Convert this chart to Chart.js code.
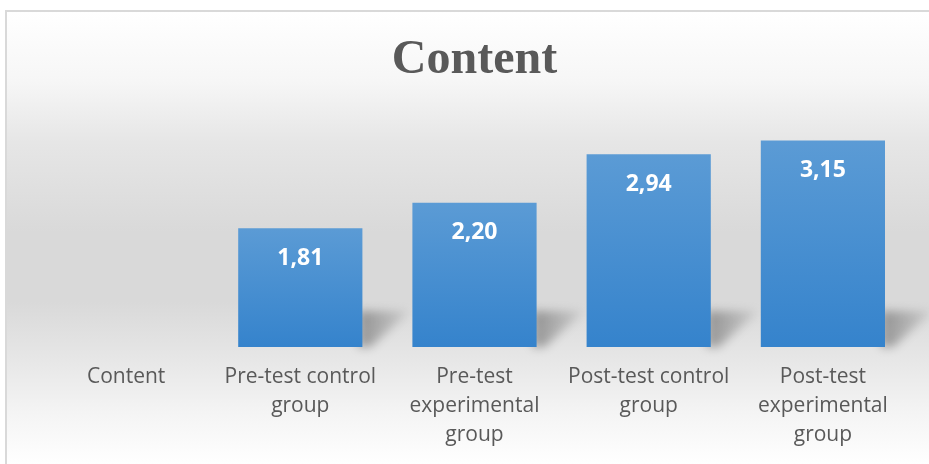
<!DOCTYPE html>
<html>
<head>
<meta charset="utf-8">
<script src="https://cdn.jsdelivr.net/npm/chart.js@4"></script>
<style>
  html, body { margin: 0; padding: 0; background: #ffffff; }
  body { width: 929px; height: 464px; position: relative; overflow: hidden; }
  .frame {
    position: absolute; left: 5px; top: 10px; width: 940px; height: 470px;
    border: 2px solid #d9d9d9;
    background: linear-gradient(to bottom, #ffffff 0px, #f6f6f6 70px, #e6e6e6 130px, #d9d9d9 220px, #d9d9d9 290px, #e6e6e6 345px, #f4f4f4 400px, #ffffff 454px);
  }
  #chart { position: absolute; left: 0; top: 0; }
</style>
</head>
<body>
<div class="frame"></div>
<canvas id="chart" width="929" height="464"></canvas>
<script>
const categories = [
  'Content',
  ['Pre-test control', 'group'],
  ['Pre-test', 'experimental', 'group'],
  ['Post-test control', 'group'],
  ['Post-test', 'experimental', 'group']
]
const values = [null, 1.81, 2.20, 2.94, 3.15]
const chartTitle = 'Content'

// floor shadow behind every bar
const barShadow = {
  id: 'barShadow',
  beforeDatasetsDraw(chart) {
    const ctx = chart.ctx
    const meta = chart.getDatasetMeta(0)
    meta.data.forEach((bar, i) => {
      if (values[i] == null) return
      const right = bar.x + bar.width / 2
      const bottom = bar.base
      ctx.save()
      ctx.filter = 'blur(5px)'
      const g = ctx.createLinearGradient(right, 0, right + 48, 0)
      g.addColorStop(0, 'rgba(0,0,0,0.32)')
      g.addColorStop(1, 'rgba(0,0,0,0.06)')
      ctx.fillStyle = g
      ctx.beginPath()
      ctx.moveTo(right - 4, bottom)
      ctx.lineTo(right - 4, bottom - 36)
      ctx.lineTo(right + 48, bottom - 36)
      ctx.lineTo(right + 8, bottom)
      ctx.closePath()
      ctx.fill()
      ctx.restore()
    })
  }
}

// value text inside the bars
const valueLabels = {
  id: 'valueLabels',
  afterDatasetsDraw(chart) {
    const ctx = chart.ctx
    const meta = chart.getDatasetMeta(0)
    ctx.save()
    ctx.fillStyle = '#ffffff'
    ctx.font = 'bold 23px "Open Sans"'
    ctx.textAlign = 'center'
    ctx.textBaseline = 'middle'
    meta.data.forEach((bar, i) => {
      if (values[i] == null) return
      ctx.fillText(values[i].toFixed(2).replace('.', ','), bar.x, bar.y + 30)
    })
    ctx.restore()
  }
}

new Chart(document.getElementById('chart'), {
  type: 'bar',
  data: {
    labels: categories,
    datasets: [{
      data: values,
      backgroundColor: (c) => {
        const chart = c.chart
        const v = values[c.dataIndex]
        if (!chart.chartArea || v == null) return '#4a90d4'
        const y = chart.scales.y
        const g = chart.ctx.createLinearGradient(0, y.getPixelForValue(v), 0, y.getPixelForValue(0))
        g.addColorStop(0, '#5b9bd5')
        g.addColorStop(1, '#3583cc')
        return g
      },
      borderWidth: 0,
      categoryPercentage: 1,
      barPercentage: 0.713
    }]
  },
  options: {
    responsive: false,
    animation: false,
    layout: { padding: { left: 39, right: 19, top: 32, bottom: 0 } },
    plugins: {
      legend: { display: false },
      tooltip: { enabled: false },
      title: {
        display: true,
        text: chartTitle,
        color: '#595959',
        font: { family: '"Liberation Serif"', size: 48, weight: 'bold', lineHeight: 1.2 },
        padding: { top: 0, bottom: 28 }
      }
    },
    scales: {
      x: {
        grid: { display: false, drawTicks: false },
        border: { display: false },
        ticks: {
          color: '#595959',
          font: { family: '"Open Sans"', size: 21, lineHeight: 1.38 },
          padding: 16,
          maxRotation: 0,
          autoSkip: false
        },
        afterFit: (s) => { s.height = 117 }
      },
      y: {
        display: false,
        min: 0,
        max: 3.5
      }
    }
  },
  plugins: [barShadow, valueLabels]
})
</script>
</body>
</html>
